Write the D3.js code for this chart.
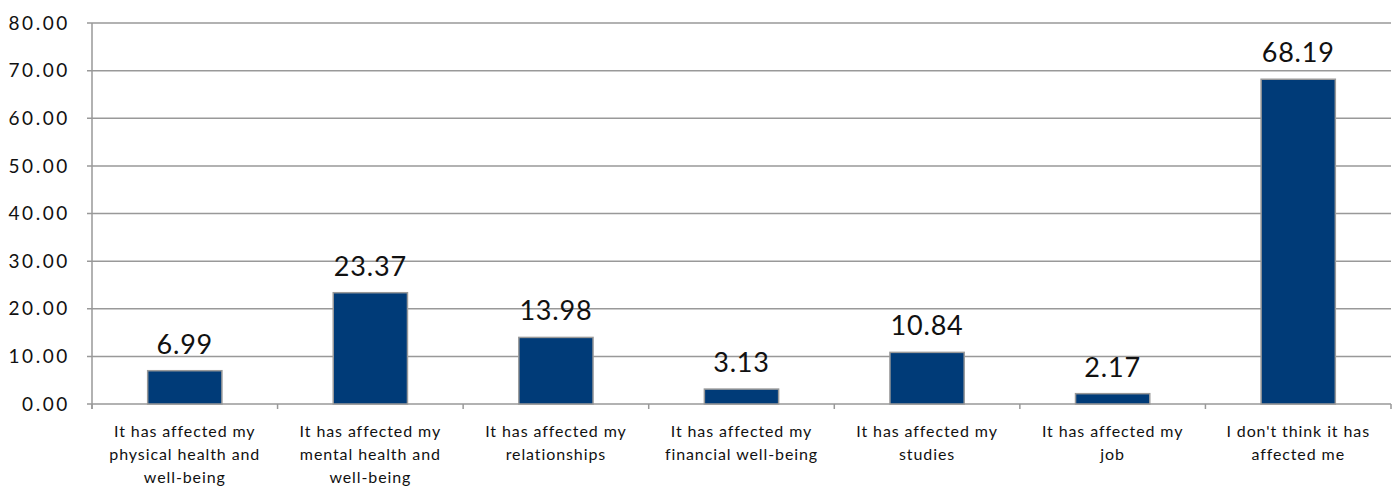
<!DOCTYPE html>
<html><head><meta charset="utf-8">
<script src="https://cdn.jsdelivr.net/npm/d3@7"></script>
<style>body{margin:0;background:#fff}svg{display:block}</style>
</head><body>
<svg id="c" width="1398" height="486"></svg>
<script>
const categories = [
  ["It has affected my","physical health and","well-being"],
  ["It has affected my","mental health and","well-being"],
  ["It has affected my","relationships"],
  ["It has affected my","financial well-being"],
  ["It has affected my","studies"],
  ["It has affected my","job"],
  ["I don't think it has","affected me"]
];
const values = [6.99, 23.37, 13.98, 3.13, 10.84, 2.17, 68.19];
const yTicks = [0,10,20,30,40,50,60,70,80];

(function(){
const FONT = "Lato, 'Open Sans', sans-serif";
const svg = d3.select("#c");
const pLeft = 92, pRight = 1391, pTop = 23, pBottom = 404;
const x = d3.scaleBand().domain(d3.range(categories.length)).range([pLeft, pRight]).paddingInner(0).paddingOuter(0);
const y = d3.scaleLinear().domain([0, 80]).range([pBottom, pTop]);
const barW = x.bandwidth() * 0.4;

svg.append("g").selectAll("line").data(yTicks).join("line")
  .attr("x1", pLeft - 5).attr("x2", pRight).attr("y1", d => y(d)).attr("y2", d => y(d))
  .attr("stroke", "#999").attr("stroke-width", 1.5);

svg.append("line").attr("x1", pLeft).attr("x2", pLeft).attr("y1", pTop).attr("y2", pBottom + 5)
  .attr("stroke", "#999").attr("stroke-width", 1.5);

svg.append("g").selectAll("text").data(yTicks).join("text")
  .attr("x", 70).attr("y", d => y(d)).attr("dy", "0.35em").attr("text-anchor", "end")
  .attr("font-family", FONT).attr("font-size", 19).attr("letter-spacing", 2.6).attr("fill", "#111")
  .text(d => d.toFixed(2));

svg.append("g").selectAll("line").data(d3.range(categories.length + 1)).join("line")
  .attr("x1", i => i < categories.length ? x(i) : pRight).attr("x2", i => i < categories.length ? x(i) : pRight)
  .attr("y1", pBottom).attr("y2", pBottom + 5)
  .attr("stroke", "#999").attr("stroke-width", 1.5);

svg.append("g").selectAll("rect").data(values).join("rect")
  .attr("x", (d, i) => x(i) + (x.bandwidth() - barW) / 2)
  .attr("y", d => y(d)).attr("width", barW).attr("height", d => pBottom - y(d))
  .attr("fill", "#003B78").attr("stroke", "#999").attr("stroke-width", 1.5);

svg.append("g").selectAll("text").data(values).join("text")
  .attr("x", (d, i) => x(i) + x.bandwidth() / 2).attr("y", d => y(d) - 17)
  .attr("text-anchor", "middle").attr("font-family", FONT).attr("font-size", 27).attr("letter-spacing", 0.8).attr("fill", "#111")
  .text(d => d.toFixed(2));

const cg = svg.append("g").selectAll("text").data(categories).join("text")
  .attr("text-anchor", "middle").attr("font-family", FONT).attr("font-size", 16).attr("letter-spacing", 0.9).attr("fill", "#111");
cg.each(function(lines, i) {
  d3.select(this).selectAll("tspan").data(lines).join("tspan")
    .attr("x", x(i) + x.bandwidth() / 2).attr("y", (l, j) => 437 + j * 23).text(l => l);
});
})();
</script>
</body></html>
